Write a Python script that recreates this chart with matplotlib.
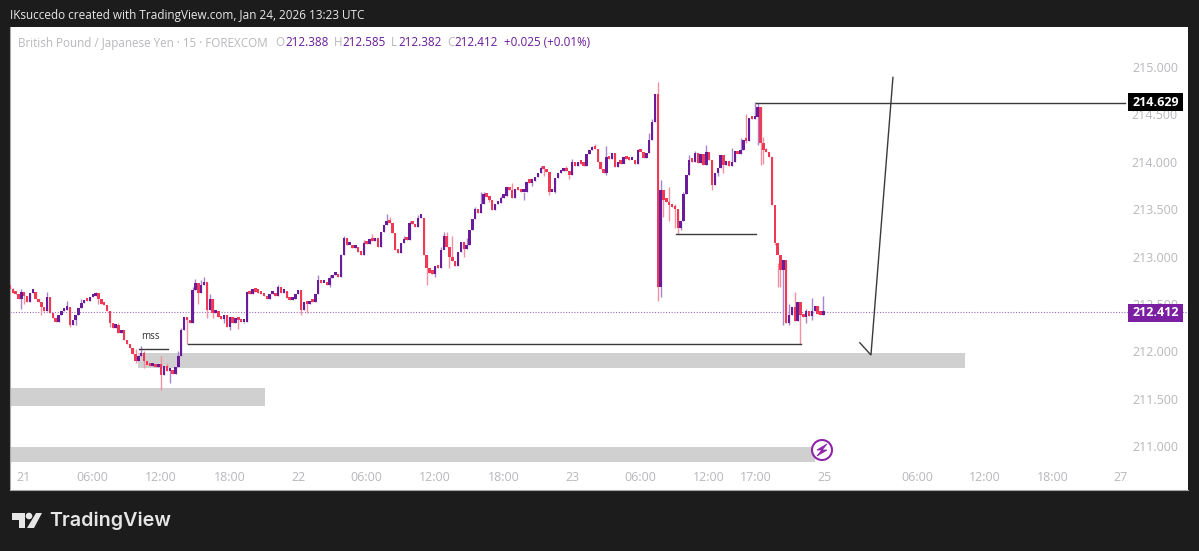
import numpy as np
import matplotlib
matplotlib.use('Agg')
import matplotlib.pyplot as plt
from matplotlib.patches import Rectangle, Polygon, Circle

plt.rcParams['font.family'] = ['Open Sans', 'DejaVu Sans']

# closes of the 15 minute bars
closes = [
    212.66, 212.62, 212.60, 212.55, 212.63, 212.58, 212.52, 212.62, 212.63, 212.55,
    212.52, 212.47, 212.42, 212.57, 212.40, 212.35, 212.31, 212.38, 212.42, 212.44,
    212.47, 212.28, 212.33, 212.38, 212.46, 212.51, 212.54, 212.53, 212.57, 212.58,
    212.61, 212.55, 212.50, 212.49, 212.42, 212.30, 212.25, 212.28, 212.19, 212.22,
    212.12, 212.08, 212.03, 211.97, 211.90, 211.95, 211.98, 211.90, 211.86, 211.84,
    211.87, 211.83, 211.87, 211.75, 211.84, 211.79, 211.80, 211.76, 211.83, 211.95,
    212.22, 212.36, 212.33, 212.30, 212.65, 212.72, 212.62, 212.70, 212.73, 212.44,
    212.55, 212.40, 212.42, 212.36, 212.34, 212.38, 212.26, 212.36, 212.30, 212.35,
    212.33, 212.31, 212.31, 212.63, 212.60, 212.66, 212.63, 212.62, 212.60, 212.58,
    212.55, 212.60, 212.62, 212.58, 212.68, 212.62, 212.64, 212.56, 212.54, 212.55,
    212.60, 212.65, 212.44, 212.52, 212.50, 212.53, 212.52, 212.60, 212.75, 212.72,
    212.72, 212.70, 212.77, 212.80, 212.82, 212.78, 213.02, 213.20, 213.12, 213.12,
    213.09, 213.10, 213.05, 213.02, 213.14, 213.13, 213.18, 213.16, 213.20, 213.10,
    213.26, 213.33, 213.38, 213.35, 213.25, 213.07, 213.04, 213.14, 213.19, 213.17,
    213.35, 213.34, 213.31, 213.41, 213.41, 213.02, 212.88, 212.83, 212.82, 212.90,
    212.88, 213.07, 213.22, 213.10, 213.00, 212.95, 212.90, 213.05, 213.15, 213.08,
    213.12, 213.28, 213.40, 213.50, 213.46, 213.55, 213.66, 213.63, 213.60, 213.49,
    213.55, 213.56, 213.62, 213.64, 213.73, 213.70, 213.62, 213.71, 213.70, 213.68,
    213.68, 213.79, 213.78, 213.80, 213.84, 213.88, 213.93, 213.92, 213.89, 213.68,
    213.68, 213.83, 213.88, 213.90, 213.92, 213.90, 213.86, 214.00, 213.96, 213.99,
    213.98, 213.96, 214.08, 214.12, 214.15, 214.13, 214.00, 213.92, 213.88, 214.05,
    214.03, 214.09, 213.94, 214.00, 213.98, 214.05, 214.03, 214.02, 214.02, 213.98,
    214.12, 214.10, 214.04, 214.09, 214.23, 214.42, 214.72, 212.68, 213.70, 213.60,
    213.58, 213.54, 213.52, 213.50, 213.30, 213.38, 213.66, 213.86, 214.02, 214.00,
    214.09, 213.99, 214.08, 213.97, 214.10, 214.02, 213.75, 213.88, 213.93, 214.07,
    213.97, 214.01, 213.96, 214.00, 214.11, 214.08, 214.12, 214.23, 214.22, 214.46,
    214.45, 214.47, 214.58, 214.20, 214.12, 214.10, 214.05, 213.54, 213.14, 213.02,
    212.86, 212.96, 212.30, 212.38, 212.47, 212.32, 212.52, 212.38, 212.36, 212.42,
    212.37, 212.42, 212.48, 212.39, 212.388, 212.412,
]
first_open = 212.68

# wicks worth reading, bar number -> price
highs = {1: 212.67, 4: 212.66, 8: 212.66, 13: 212.63, 20: 212.53, 25: 212.55, 30: 212.63,
         35: 212.42, 38: 212.30, 44: 212.02, 46: 212.06, 47: 212.00, 53: 211.95, 55: 211.88,
         59: 212.00, 60: 212.25, 64: 212.68, 65: 212.76, 67: 212.75, 68: 212.78, 70: 212.60,
         84: 212.65, 94: 212.70, 108: 212.80, 112: 212.80, 116: 213.03, 117: 213.22,
         124: 213.17, 127: 213.24, 132: 213.45, 133: 213.42, 138: 213.22, 140: 213.38,
         143: 213.44, 144: 213.43, 151: 213.10, 152: 213.26, 153: 213.26, 155: 213.22,
         160: 213.20, 163: 213.52, 165: 213.68, 166: 213.68, 172: 213.64, 176: 213.78,
         186: 213.96, 195: 213.95, 197: 214.03, 204: 214.17, 205: 214.19, 209: 214.17,
         220: 214.13, 224: 214.30, 225: 214.45, 227: 214.84, 228: 213.81, 231: 213.73,
         233: 213.55, 236: 213.68, 238: 214.07, 240: 214.11, 244: 214.18, 253: 214.14,
         256: 214.25, 258: 214.50, 261: 214.629, 262: 214.62, 264: 214.26, 265: 214.15,
         268: 213.12, 269: 212.93, 270: 212.98, 273: 212.50, 275: 212.63, 277: 212.47,
         279: 212.45, 281: 212.56, 285: 212.585}
lows = {4: 212.45, 5: 212.50, 11: 212.38, 21: 212.26, 23: 212.28, 31: 212.50, 35: 212.26,
        44: 211.88, 47: 211.82, 53: 211.59, 56: 211.67, 62: 212.08, 66: 212.50, 69: 212.35,
        71: 212.35, 75: 212.30, 77: 212.22, 80: 212.24, 82: 212.30, 102: 212.38, 104: 212.40,
        112: 212.68, 146: 212.70, 149: 212.78, 152: 213.08, 154: 212.88, 159: 213.00,
        163: 213.40, 168: 213.58, 180: 213.60, 183: 213.74, 187: 213.85, 189: 213.65,
        191: 213.67, 196: 213.82, 209: 213.86, 215: 213.99, 227: 212.53, 228: 212.57,
        229: 213.42, 231: 213.38, 233: 213.30, 234: 213.24, 235: 213.28, 246: 213.70,
        248: 213.85, 250: 213.88, 258: 214.20, 262: 214.18, 263: 213.97, 264: 213.98,
        269: 212.68, 270: 212.68, 271: 212.28, 273: 212.28, 277: 212.08, 279: 212.30,
        281: 212.33, 285: 212.382}

price_ticks = [211.0, 211.5, 212.0, 212.5, 213.0, 213.5, 214.0, 214.5, 215.0]
time_ticks = [4.9, 29, 53, 77, 101, 125, 149, 173, 197, 221, 245, 261.4, 285.6, 318, 341.6, 365.5, 389.3]
time_labels = ['21', '06:00', '12:00', '18:00', '22', '06:00', '12:00', '18:00', '23', '06:00',
               '12:00', '17:00', '25', '06:00', '12:00', '18:00', '27']

# grey zones: start bar, end bar, low, high
zones = [(45.0, 334.6, 211.82, 211.98),
         (0, 89.3, 211.42, 211.61),
         (0, 282, 210.83, 210.99)]
# hand drawn lines: bars, prices
drawn = [([45.2, 55.4], [212.02, 212.02]),
         ([62.4, 277.2], [212.08, 212.08]),
         ([233.4, 261.4], [213.24, 213.24]),
         ([261.4, 390.7], [214.62, 214.62]),
         ([297.8, 301.7, 309.4], [212.09, 211.96, 214.89])]
last_price = 212.412
alert_price = 214.629

UP = '#6a1b9a'
DOWN = '#ef3a55'
UP_WICK = '#a884cc'
DOWN_WICK = '#f291a2'
BG = '#1c1c1c'
GREY = '#b8b8bc'

fig = plt.figure(figsize=(11.99, 5.51), dpi=100, facecolor=BG)
ax = fig.add_axes([10 / 1199, 1 - 490 / 551, 1178 / 1199, 463 / 551])
ax.set_facecolor('white')
ax.set_xlim(0, 412.8)
ax.set_ylim(210.536, 215.422)

for start, end, lo, hi in zones:
    ax.add_patch(Rectangle((start, lo), end - start, hi - lo, color='#d0d0d0', lw=0, zorder=1))

ax.axhline(last_price, color='#9b6cc0', lw=0.8, ls=(0, (1, 1.5)), zorder=1.5)

opens = [first_open] + closes[:-1]
for i, (o, c) in enumerate(zip(opens, closes)):
    up = c >= o
    hi = highs.get(i, max(o, c))
    lo = lows.get(i, min(o, c))
    ax.vlines(i, lo, hi, color=UP_WICK if up else DOWN_WICK, lw=1.0, zorder=2)
    ax.bar(i, max(abs(c - o), 0.035), bottom=min(o, c), width=0.85, color=UP if up else DOWN, lw=0, zorder=3)

for xs, ys in drawn:
    ax.plot(xs, ys, color='#3a3a3a', lw=1.0, zorder=4, solid_joinstyle='miter')
ax.text(49.3, 212.10, 'mss', fontsize=7, color='#333333', ha='center', va='bottom', zorder=5)

ax.set_xticks(time_ticks)
ax.set_xticklabels(time_labels)
ax.set_yticks(price_ticks)
ax.set_yticklabels(['%.3f' % p for p in price_ticks], ha='right')
ax.yaxis.tick_right()
ax.tick_params(axis='x', length=0, pad=-13.5, labelsize=9, labelcolor=GREY)
ax.tick_params(axis='y', length=0, pad=-7.2, labelsize=9, labelcolor=GREY)
for side in ['top', 'right']:
    ax.spines[side].set_visible(False)
for side in ['left', 'bottom']:
    ax.spines[side].set_color('#a8a8a8')
    ax.spines[side].set_linewidth(0.8)

# overlay in pixels for the header, price tags and logo
top = fig.add_axes([0, 0, 1, 1], facecolor='none')
top.set_xlim(0, 1199)
top.set_ylim(551, 0)
top.axis('off')

top.text(10, 15, 'IKsuccedo created with TradingView.com, Jan 24, 2026 13:23 UTC', color='#e8e8e8',
         fontsize=8.5, va='center')
top.text(18, 43, 'British Pound / Japanese Yen · 15 · FOREXCOM', color=GREY, fontsize=8.4, va='center')
legend_bits = [(275, 'O', GREY), (285, '212.388', UP), (334, 'H', GREY), (342, '212.585', UP),
               (391, 'L', GREY), (398, '212.382', UP), (447, 'C', GREY), (454, '212.412', UP),
               (504, '+0.025 (+0.01%)', UP)]
for x, s, col in legend_bits:
    top.text(x, 43, s, color=col, fontsize=8.4, va='center')

for y0, y1, col, val in [(93, 111, '#000000', alert_price), (304, 322, '#7b1fa2', last_price)]:
    top.add_patch(Rectangle((1128, y0), 55, y1 - y0, color=col, lw=0, zorder=5))
    top.text(1155.5, (y0 + y1) / 2, '%.3f' % val, color='white', fontsize=9, fontweight='bold',
             ha='center', va='center', zorder=6)

# lightning badge
top.add_patch(Circle((822, 450), 10, facecolor='white', edgecolor='#8e24aa', lw=1.5, zorder=5))
top.add_patch(Polygon([(827, 444), (817, 450), (822, 450), (817, 456), (827, 450), (822, 450)],
                      closed=True, color='#8e24aa', lw=0.6, zorder=6))

# logo
logo = '#e6e6e6'
top.add_patch(Polygon([(12, 513), (25, 513), (25, 528), (19, 528), (19, 520), (12, 520)], color=logo, lw=0))
top.add_patch(Circle((29, 516), 3.3, color=logo, lw=0))
top.add_patch(Polygon([(36, 513), (42, 513), (34, 528), (27, 528)], color=logo, lw=0))
top.text(49, 521, 'TradingView', color=logo, fontsize=14.2, fontweight='semibold', family=['Inter', 'DejaVu Sans'],
         va='center')

fig.savefig('out.png', dpi=100, facecolor=fig.get_facecolor())
